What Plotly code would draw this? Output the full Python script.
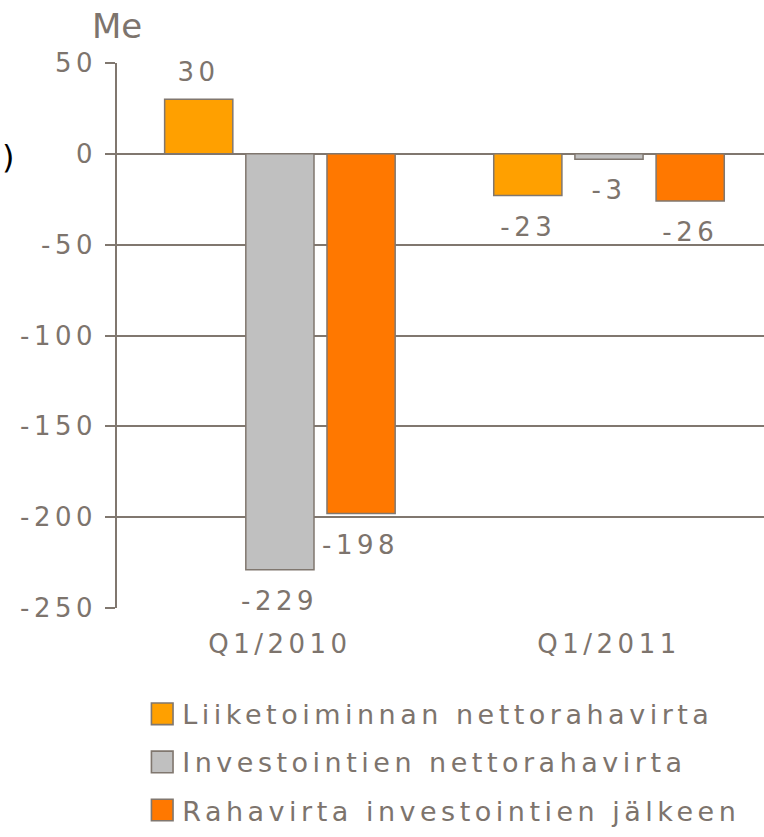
import plotly.graph_objects as go

categories = ["Q1/2010", "Q1/2011"]
series_names = ["Liiketoiminnan nettorahavirta", "Investointien nettorahavirta", "Rahavirta investointien jälkeen"]
liiketoiminta = [30, -23]
investoinnit = [-229, -3]
rahavirta = [-198, -26]
y_ticks = [50, 0, -50, -100, -150, -200, -250]
y_tick_text = ["50", "0", "-50", "-100", "-150", "-200", "-250"]

colors = ["#FFA000", "#C0C0C0", "#FF7800"]
edge = "#80776F"
txt = "#7D746D"
font_family = "DejaVu Sans, Verdana, sans-serif"

fig = go.Figure()
all_vals = [liiketoiminta, investoinnit, rahavirta]
for i, (name, vals) in enumerate(zip(series_names, all_vals)):
    fig.add_trace(go.Bar(
        x=categories, y=vals, name=name,
        marker=dict(color=colors[i], line=dict(color=edge, width=1.5)),
        legendgroup=f"g{i}",
        offsetgroup=str(i),
    ))

# value labels
ann = []
for i, vals in enumerate(all_vals):
    for j, v in enumerate(vals):
        ann.append(dict(
            x=j + (i - 1) * 0.2462, y=v, xref="x", yref="y",
            text=str(v), showarrow=False,
            yshift=27 if v > 0 else -31,
            font=dict(size=26, color=txt, family=font_family),
        ))
ann.append(dict(x=0, y=1.0, xref="paper", yref="paper", yshift=37,
                text="Me", showarrow=False, xanchor="center", yanchor="middle",
                font=dict(size=34, color=txt, family=font_family)))
ann.append(dict(x=-0.1808, y=0, xref="paper", yref="y", yshift=-3,
                text=")", showarrow=False, xanchor="left", yanchor="middle",
                font=dict(size=32, color="#000000", family=font_family)))

fig.update_layout(
    width=764, height=837,
    margin=dict(l=117, r=0, t=63, b=229),
    paper_bgcolor="white", plot_bgcolor="white",
    barmode="group", bargap=0.26, bargroupgap=0.16,
    font=dict(family=font_family, color=txt),
    showlegend=True,
    legend=dict(
        x=0.039, y=-0.150, xanchor="left", yanchor="top",
        orientation="v", tracegroupgap=10,
        font=dict(size=27, color=txt, family=font_family),
        bgcolor="rgba(0,0,0,0)",
    ),
    annotations=ann,
)
fig.update_xaxes(
    range=[-0.495, 1.471], showgrid=False, zeroline=False, showline=False,
    ticks="", tickfont=dict(size=26, color=txt, family=font_family),
    ticklabelstandoff=18,
)
fig.update_yaxes(
    range=[-250, 50], tickvals=y_ticks, ticktext=y_tick_text,
    showgrid=True, gridcolor=edge, gridwidth=1.5,
    zeroline=True, zerolinecolor=edge, zerolinewidth=1.5,
    showline=True, linecolor=edge, linewidth=1.5,
    ticks="outside", ticklen=10, tickcolor=edge, tickwidth=1.5,
    tickfont=dict(size=26, color=txt, family=font_family),
    ticklabelstandoff=3,
)

post = """
document.body.style.margin = '0';
var gd = document.getElementById('{plot_id}');
gd.querySelectorAll('text').forEach(function(t){
  if (t.textContent !== 'Me' && t.textContent !== ')') { t.style.letterSpacing = '4.5px'; }
});
gd.querySelectorAll('.legend, .legend *').forEach(function(e){ e.removeAttribute('clip-path'); });
gd.querySelectorAll('.legendpoints path').forEach(function(p){
  var tr = p.getAttribute('transform') || '';
  p.setAttribute('transform', tr + ' scale(1.8)');
  p.style.strokeWidth = '0.9px';
});
"""

fig.write_html("out.html", post_script=post, config={"displayModeBar": False})
